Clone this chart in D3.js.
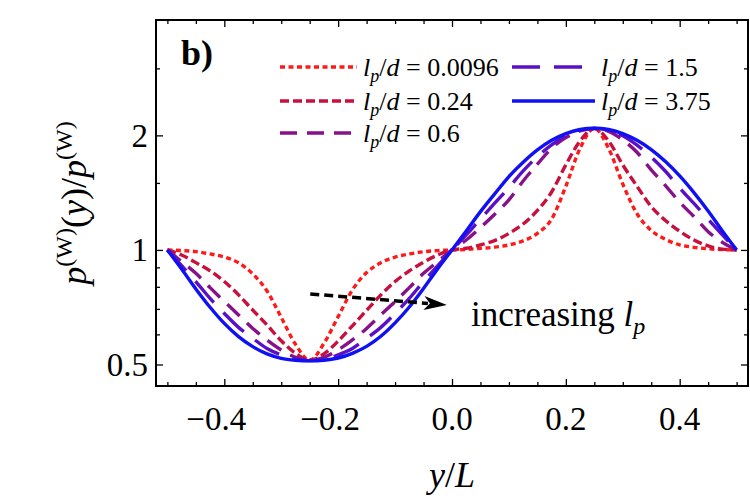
<!DOCTYPE html>
<html>
<head>
<meta charset="utf-8">
<script src="https://cdn.jsdelivr.net/npm/d3@7"></script>
<style>
    body { margin: 0; background: #fff; }
    text { font-family: "Liberation Serif", "Times New Roman", serif; fill: #000; }
</style>
</head>
<body>
<svg id="chart" width="750" height="503"></svg>
<script>
// y/L positions shared by every curve
const yOverL = [-0.5, -0.475, -0.45, -0.425, -0.4, -0.375, -0.35, -0.325, -0.3, -0.275,
    -0.25, -0.225, -0.2, -0.175, -0.15, -0.125, -0.1, -0.075, -0.05, -0.025,
    0, 0.025, 0.05, 0.075, 0.1, 0.125, 0.15, 0.175, 0.2, 0.225,
    0.25, 0.275, 0.3, 0.325, 0.35, 0.375, 0.4, 0.425, 0.45, 0.475, 0.5];

// p(y)/p for each l_p/d
const ratio0096 = [1.000, 0.996, 0.990, 0.976, 0.958, 0.925, 0.865, 0.780, 0.665, 0.565,
    0.513, 0.568, 0.668, 0.785, 0.872, 0.925, 0.958, 0.976, 0.989, 0.996,
    1.000, 1.003, 1.010, 1.017, 1.031, 1.056, 1.106, 1.205, 1.470, 1.850,
    2.085, 1.850, 1.490, 1.245, 1.125, 1.066, 1.031, 1.016, 1.007, 1.002, 1.000];
const ratio024 = [1.000, 0.970, 0.926, 0.881, 0.826, 0.762, 0.695, 0.635, 0.577, 0.535,
    0.513, 0.533, 0.576, 0.632, 0.694, 0.762, 0.826, 0.881, 0.928, 0.970,
    1.000, 1.010, 1.031, 1.058, 1.105, 1.170, 1.270, 1.420, 1.673, 1.935,
    2.085, 1.935, 1.673, 1.470, 1.300, 1.195, 1.120, 1.062, 1.025, 1.005, 1.000];
const ratio06 = [1.000, 0.932, 0.868, 0.796, 0.732, 0.675, 0.622, 0.580, 0.546, 0.522,
    0.513, 0.522, 0.546, 0.580, 0.622, 0.675, 0.732, 0.796, 0.868, 0.932,
    1.000, 1.062, 1.145, 1.241, 1.354, 1.518, 1.680, 1.851, 1.974, 2.055,
    2.085, 2.050, 1.946, 1.806, 1.623, 1.476, 1.335, 1.224, 1.117, 1.047, 1.000];
const ratio15 = [1.000, 0.909, 0.826, 0.746, 0.681, 0.626, 0.586, 0.551, 0.530, 0.516,
    0.512, 0.516, 0.530, 0.551, 0.586, 0.626, 0.681, 0.746, 0.826, 0.909,
    1.000, 1.095, 1.206, 1.327, 1.458, 1.613, 1.759, 1.888, 1.998, 2.064,
    2.087, 2.064, 1.995, 1.885, 1.755, 1.610, 1.455, 1.325, 1.205, 1.095, 1.000];
const ratio375 = [1.000, 0.891, 0.790, 0.707, 0.641, 0.592, 0.557, 0.533, 0.519, 0.513,
    0.511, 0.513, 0.520, 0.535, 0.558, 0.593, 0.643, 0.708, 0.792, 0.893,
    1.000, 1.122, 1.261, 1.404, 1.559, 1.700, 1.832, 1.942, 2.022, 2.072,
    2.089, 2.072, 2.022, 1.942, 1.836, 1.707, 1.565, 1.415, 1.266, 1.122, 1.000];

const lpLabels = ["0.0096", "0.24", "0.6", "1.5", "3.75"];
const lpColors = ["#ff1a1a", "#c8103f", "#86118a", "#5a10c8", "#1010f5"];
const lpDashes = ["5,3.5", "9,4", "17,10", "28,14", null];

const xTicksMajor = [-0.4, -0.2, 0, 0.2, 0.4];
const xTicksMinor = [-0.5, -0.45, -0.35, -0.3, -0.25, -0.15, -0.1, -0.05,
    0.05, 0.1, 0.15, 0.25, 0.3, 0.35, 0.45, 0.5];
const yTicksMajor = [0.5, 1, 2];
const yTicksMinor = [0.6, 0.7, 0.8, 0.9, 1.5, 3];

// dashed arrow "increasing l_p", [y/L, ratio]
const arrowFrom = [-0.249, 0.766];
const arrowTo = [-0.009, 0.717];

const series = [ratio0096, ratio024, ratio06, ratio15, ratio375];

let svg = d3.select("#chart"),
    margin = {top: 20, right: 2, bottom: 117, left: 156},
    width = +svg.attr("width") - margin.left - margin.right,
    height = +svg.attr("height") - margin.top - margin.bottom;

let x = d3.scaleLinear().domain([-0.52, 0.52]).range([margin.left, margin.left + width]);
let y = d3.scaleLog().domain([0.439, 4.02]).range([margin.top + height, margin.top]);

let line = d3.line()
    .x(function (d) { return x(d[0]); })
    .y(function (d) { return y(d[1]); })
    .curve(d3.curveMonotoneX);

// curves
let curves = svg.append("g").attr("class", "curves");
series.forEach(function (s, i) {
    let pts = yOverL.map(function (v, j) { return [v, s[j]]; });
    curves.append("path")
        .attr("d", line(pts))
        .attr("fill", "none")
        .attr("stroke", lpColors[i])
        .attr("stroke-width", 3.4)
        .attr("stroke-dasharray", lpDashes[i]);
});

// axes on all four sides, ticks inward
function frameAxis(axis, tr, vals, size) {
    let g = svg.append("g").attr("transform", tr)
        .call(axis.tickValues(vals).tickSizeInner(size).tickSizeOuter(0).tickFormat(""));
    g.select(".domain").remove();
    g.selectAll(".tick line").attr("stroke", "#000").attr("stroke-width", 1.3);
    return g;
}
let bottomY = margin.top + height, rightX = margin.left + width;
frameAxis(d3.axisBottom(x), "translate(0," + bottomY + ")", xTicksMajor, -7);
frameAxis(d3.axisBottom(x), "translate(0," + bottomY + ")", xTicksMinor, -4);
frameAxis(d3.axisTop(x), "translate(0," + margin.top + ")", xTicksMajor, -7);
frameAxis(d3.axisTop(x), "translate(0," + margin.top + ")", xTicksMinor, -4);
frameAxis(d3.axisLeft(y), "translate(" + margin.left + ",0)", yTicksMajor, -7);
frameAxis(d3.axisLeft(y), "translate(" + margin.left + ",0)", yTicksMinor, -4);
frameAxis(d3.axisRight(y), "translate(" + rightX + ",0)", yTicksMajor, -7);
frameAxis(d3.axisRight(y), "translate(" + rightX + ",0)", yTicksMinor, -4);

svg.append("rect")
    .attr("x", margin.left).attr("y", margin.top)
    .attr("width", width).attr("height", height)
    .attr("fill", "none").attr("stroke", "#000").attr("stroke-width", 2);

// tick labels
svg.append("g").selectAll("text").data(xTicksMajor).enter().append("text")
    .attr("x", function (d) { return x(d) + (d < 0 ? -8 : 0); })
    .attr("y", bottomY + 44)
    .attr("text-anchor", "middle")
    .attr("font-size", "33px")
    .text(function (d) { return d3.format(".1f")(d).replace("-", "\u2212"); });

svg.append("g").selectAll("text").data(yTicksMajor).enter().append("text")
    .attr("x", margin.left - 8)
    .attr("y", function (d) { return y(d); })
    .attr("dy", "0.35em")
    .attr("text-anchor", "end")
    .attr("font-size", "33px")
    .text(function (d) { return d; });

// axis titles
let xt = svg.append("text").attr("x", x(0)).attr("y", 487)
    .attr("text-anchor", "middle").attr("font-size", "36px");
xt.append("tspan").attr("font-style", "italic").text("y");
xt.append("tspan").text("/");
xt.append("tspan").attr("font-style", "italic").text("L");

let yt = svg.append("text")
    .attr("transform", "translate(86," + 203 + ") rotate(-90)")
    .attr("text-anchor", "middle").attr("font-size", "36px");
yt.append("tspan").attr("font-style", "italic").text("p");
yt.append("tspan").attr("font-size", "24px").attr("dy", "-14").text("(W)");
yt.append("tspan").attr("dy", "14").text("(");
yt.append("tspan").attr("font-style", "italic").text("y");
yt.append("tspan").text(")/");
yt.append("tspan").attr("font-style", "italic").text("p");
yt.append("tspan").attr("font-size", "24px").attr("dy", "-14").text("(W)");

// panel tag
svg.append("text").attr("x", 181).attr("y", 65)
    .attr("font-size", "36px").attr("font-weight", "bold").text("b)");

// legend
let legendPos = [[280, 67], [280, 101], [280, 133], [512, 67], [512, 101]];
lpLabels.forEach(function (lab, i) {
    let p = legendPos[i];
    let w = i < 3 ? 77 : 83;
    svg.append("line")
        .attr("x1", p[0]).attr("x2", p[0] + w)
        .attr("y1", p[1]).attr("y2", p[1])
        .attr("stroke", lpColors[i]).attr("stroke-width", 3.4)
        .attr("stroke-dasharray", lpDashes[i]);
    let t = svg.append("text").attr("x", p[0] + w + 6).attr("y", p[1] + 9)
        .attr("font-size", "26px");
    t.append("tspan").attr("font-style", "italic").text("l");
    t.append("tspan").attr("font-style", "italic").attr("font-size", "18px").attr("dy", "6").text("p");
    t.append("tspan").attr("dy", "-6").text("/");
    t.append("tspan").attr("font-style", "italic").text("d");
    t.append("tspan").text(" = " + lab);
});

// arrow
let ax0 = x(arrowFrom[0]), ay0 = y(arrowFrom[1]),
    ax1 = x(arrowTo[0]), ay1 = y(arrowTo[1]);
let ang = Math.atan2(ay1 - ay0, ax1 - ax0),
    headLen = 23;
svg.append("line")
    .attr("x1", ax0).attr("y1", ay0)
    .attr("x2", ax1 - (headLen - 4) * Math.cos(ang)).attr("y2", ay1 - (headLen - 4) * Math.sin(ang))
    .attr("stroke", "#000").attr("stroke-width", 3.5).attr("stroke-dasharray", "9,5");
function rot(px, py) {
    return [ax1 + px * Math.cos(ang) - py * Math.sin(ang), ay1 + px * Math.sin(ang) + py * Math.cos(ang)];
}
svg.append("path")
    .attr("d", "M" + [rot(0, 0), rot(-headLen, -7), rot(-headLen + 6, 0), rot(-headLen, 7)].join("L") + "Z")
    .attr("fill", "#000");

let inc = svg.append("text").attr("x", 471).attr("y", 326).attr("font-size", "35px");
inc.append("tspan").text("increasing ");
inc.append("tspan").attr("font-style", "italic").text("l");
inc.append("tspan").attr("font-style", "italic").attr("font-size", "24px").attr("dy", "8").text("p");
</script>
</body>
</html>
